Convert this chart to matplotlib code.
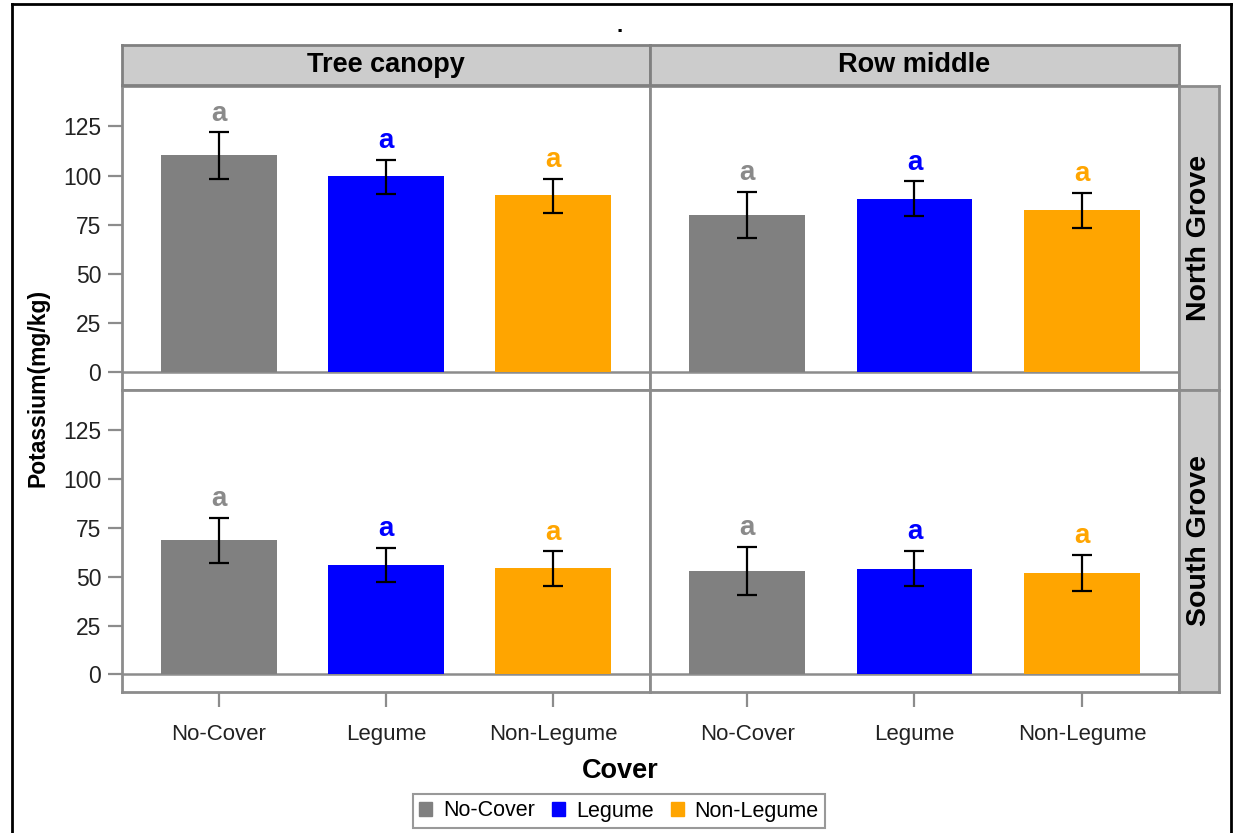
import matplotlib
matplotlib.use("Agg")
import matplotlib.pyplot as plt
from matplotlib.patches import Patch
from matplotlib.lines import Line2D

plt.rcParams['font.family'] = ['Liberation Sans', 'DejaVu Sans']

# Data
covers = ["No-Cover", "Legume", "Non-Legume"]
positions = ["Tree canopy", "Row middle"]
groves = ["North Grove", "South Grove"]
colors = ["#808080", "#0000ff", "#ffa500"]
letter_colors = ["#8a8a8a", "#0000ff", "#ffa500"]

# mean, lower, upper per [grove][position]
north_tree = [110.5, 99.7, 90.0]
north_tree_lo = [98.2, 90.7, 81.1]
north_tree_hi = [121.9, 107.9, 98.4]
north_row = [80.0, 88.3, 82.7]
north_row_lo = [68.0, 79.2, 73.2]
north_row_hi = [91.8, 97.1, 91.3]
south_tree = [68.9, 56.1, 54.6]
south_tree_lo = [57.1, 47.4, 45.4]
south_tree_hi = [80.1, 64.8, 63.1]
south_row = [53.0, 54.0, 52.0]
south_row_lo = [40.8, 45.0, 42.9]
south_row_hi = [65.3, 63.3, 61.2]
letters = ["a", "a", "a"]

means = [[north_tree, north_row], [south_tree, south_row]]
lows = [[north_tree_lo, north_row_lo], [south_tree_lo, south_row_lo]]
highs = [[north_tree_hi, north_row_hi], [south_tree_hi, south_row_hi]]

W, H = 1236, 833
fig = plt.figure(figsize=(W / 100, H / 100), dpi=100)


def px_axes(x0, y0, x1, y1):
    # pixel box (top-left origin) -> figure axes
    return fig.add_axes([x0 / W, 1 - y1 / H, (x1 - x0) / W, (y1 - y0) / H])


border = "#8c8c8c"
col_x = [(122, 650), (650, 1179)]
row_y = [(86, 390), (390, 692)]

for r in range(2):
    for c in range(2):
        ax = px_axes(col_x[c][0], row_y[r][0], col_x[c][1], row_y[r][1])
        m = means[r][c]
        lo = [m[i] - lows[r][c][i] for i in range(3)]
        hi = [highs[r][c][i] - m[i] for i in range(3)]
        xs = range(len(covers))
        ax.bar(xs, m, width=0.69, color=colors, zorder=2)
        ax.errorbar(xs, m, yerr=[lo, hi], fmt="none", ecolor="black",
                    elinewidth=1.6, capsize=7, capthick=1.6, zorder=3)
        for i in xs:
            ax.annotate(letters[i], (i, highs[r][c][i]), xytext=(0, 4),
                        textcoords="offset points", ha="center", va="bottom",
                        fontsize=20, fontweight="bold", color=letter_colors[i])
        ax.axhline(0, color=border, lw=1.8, zorder=1)
        ax.set_xlim(-0.58, 2.58)
        ax.set_ylim(-9, 145.5)
        for s in ax.spines.values():
            s.set_color(border)
            s.set_linewidth(2)
        ax.set_yticks([0, 25, 50, 75, 100, 125])
        ax.set_xticks(list(xs))
        ax.tick_params(axis="both", colors=border, labelcolor="#222222",
                       labelsize=16, length=10, width=1.6, pad=5)
        ax.tick_params(axis="y", labelsize=16.5)
        if c == 1:
            ax.tick_params(axis="y", left=False, labelleft=False)
        if r == 1:
            ax.set_xticklabels(covers)
            ax.tick_params(axis="x", length=11, pad=12)
        else:
            ax.tick_params(axis="x", bottom=False, labelbottom=False)

# column strips
for c in range(2):
    sa = px_axes(col_x[c][0], 45, col_x[c][1], 85)
    sa.set_facecolor("#cccccc")
    sa.set_xticks([])
    sa.set_yticks([])
    for s in sa.spines.values():
        s.set_color("#808080")
        s.set_linewidth(2)
    sa.text(0.5, 0.5, positions[c], ha="center", va="center",
            fontsize=19.5, fontweight="bold", transform=sa.transAxes)

# row strips
for r in range(2):
    sa = px_axes(1179, row_y[r][0], 1219, row_y[r][1])
    sa.set_facecolor("#cccccc")
    sa.set_xticks([])
    sa.set_yticks([])
    for s in sa.spines.values():
        s.set_color("#8c8c8c")
        s.set_linewidth(2)
    sa.text(0.5, 0.5, groves[r], ha="center", va="center", rotation=90,
            fontsize=20.5, fontweight="bold", transform=sa.transAxes)

fig.text(38 / W, 1 - 388 / H, "Potassium(mg/kg)", rotation=90, ha="center",
         va="center", fontsize=16.5, fontweight="bold")
fig.text(620 / W, 1 - 771 / H, "Cover", ha="center", va="center",
         fontsize=19.5, fontweight="bold")
fig.text(620 / W, 1 - 26 / H, ".", ha="center", va="center", fontsize=16,
         fontweight="bold")

handles = [Patch(facecolor=col, edgecolor=col) for col in colors]
leg = fig.legend(handles, covers, loc="center", ncol=3,
                 bbox_to_anchor=(619 / W, 1 - 811 / H), fontsize=15.5,
                 frameon=True, fancybox=False, handlelength=0.6,
                 handleheight=0.6, handletextpad=0.5, columnspacing=0.8,
                 borderpad=0.3)
leg.get_frame().set_edgecolor("#808080")
leg.get_frame().set_linewidth(1.5)

# outer black frame
fig.add_artist(Line2D([12 / W, 12 / W], [0, 1 - 4 / H], color="black", lw=2))
fig.add_artist(Line2D([1231 / W, 1231 / W], [0, 1 - 4 / H], color="black", lw=2))
fig.add_artist(Line2D([12 / W, 1231 / W], [1 - 4 / H, 1 - 4 / H], color="black", lw=2))

fig.savefig("out.png", dpi=100)
